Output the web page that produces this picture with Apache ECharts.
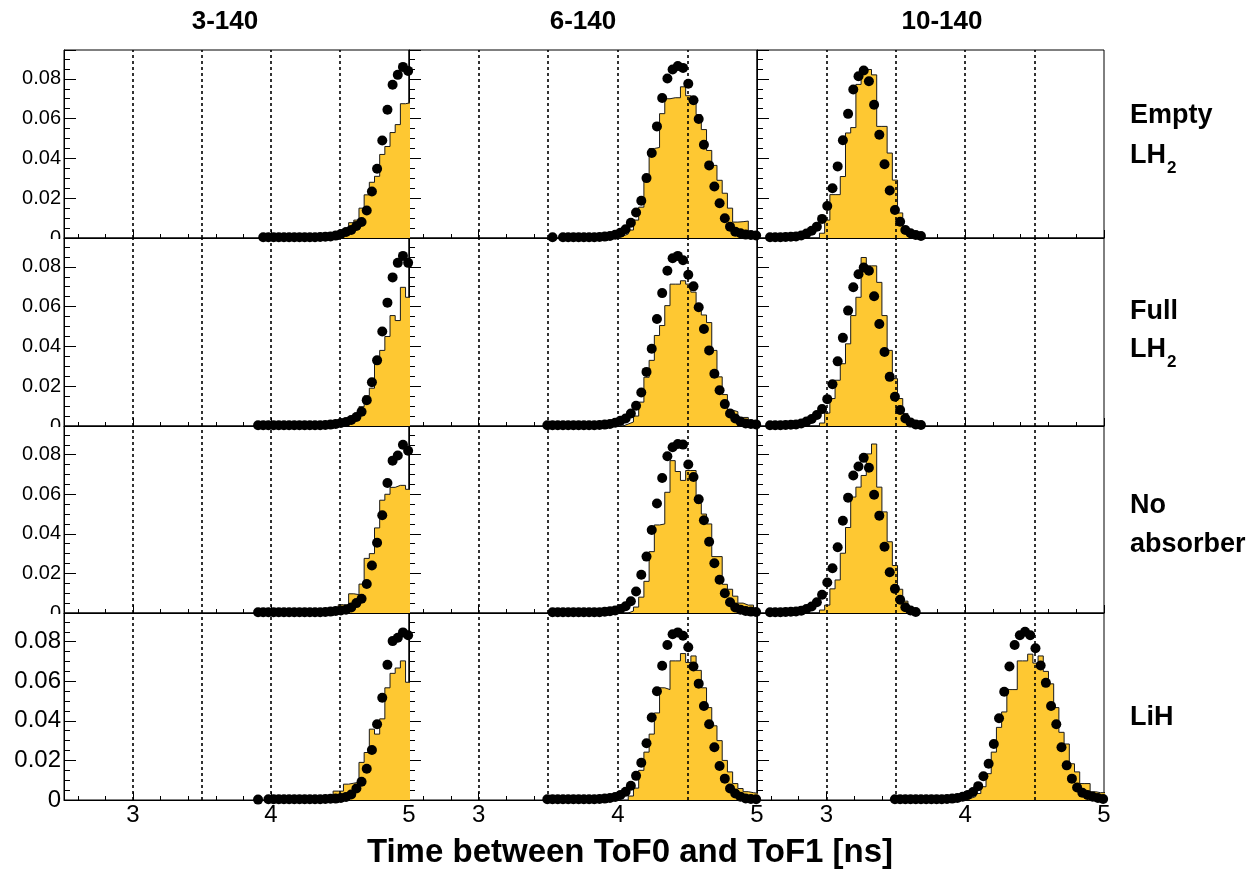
<!DOCTYPE html>
<html><head><meta charset="utf-8">
<script src="https://cdn.jsdelivr.net/npm/echarts@6/dist/echarts.min.js"></script>
<style>html,body{margin:0;padding:0;background:#fff}#c{width:1260px;height:875px}</style>
</head><body><div id="c"></div>
<script>
// ---- binning ----
const BIN_WIDTH = 0.0375;   // ns
const X_ORIGIN = 2.5;       // ns, lower edge of bin 0
const X_MIN = 2.5, X_MAX = 5, Y_MAX = 0.0945;

// ---- text ----
const columnTitles = ['3-140', '6-140', '10-140'];
const rowLabels = [['Empty', 'LH'], ['Full', 'LH'], ['No', 'absorber'], ['LiH']];
const rowLabelSubscripts = ['2', '2', '', ''];
const xAxisTitle = 'Time between ToF0 and ToF1 [ns]';
const guideLines = [3, 3.5, 4, 4.5];

// ---- Empty LH2 ----
const emptyA_dotsFrom = 38;
const emptyA_dots = [0.0004,0.0004,0.0004,0.0004,0.0004,0.0004,0.0004,0.0004,0.0004,0.0004,0.0004,0.0005,0.0006,0.0008,0.0012,0.002,0.003,0.004,0.006,0.008,0.0138,0.0234,0.0348,0.049,0.0645,0.077,0.082,0.086,0.084];
const emptyA_histFrom = 52;
const emptyA_hist = [0.001,0.002,0.0023,0.0077,0.009,0.015,0.0217,0.028,0.031,0.042,0.046,0.053,0.057,0.0675,0.068];

const emptyB_dotsFrom = 27;
const emptyB_dots = [0.0004,null,0.0004,0.0004,0.0004,0.0004,0.0004,0.0004,0.0004,0.0005,0.0007,0.001,0.0016,0.0027,0.0044,0.0077,0.0128,0.0187,0.0301,0.0427,0.0561,0.0704,0.0802,0.0847,0.0864,0.0855,0.0775,0.0692,0.0598,0.0469,0.0365,0.0259,0.0175,0.0099,0.0057,0.0032,0.0024,0.0017,0.0015,0.0013];
const emptyB_histFrom = 40;
const emptyB_hist = [0.001,0.002,0.004,0.009,0.0155,0.029,0.045,0.0455,0.0625,0.07,0.0705,0.0705,0.076,0.0715,0.0695,0.062,0.0545,0.044,0.0365,0.029,0.0225,0.015,0.008,0.0082,0.0085,0.002,0.001];

const emptyC_dotsFrom = 2;
const emptyC_dots = [0.0004,0.0004,0.0004,0.0005,0.0006,0.0008,0.0013,0.0022,0.0036,0.0057,0.0096,0.0161,0.025,0.036,0.0491,0.0624,0.0746,0.0813,0.0842,0.0788,0.067,0.0519,0.0371,0.0239,0.0141,0.0082,0.004,0.0024,0.0015,0.001];
const emptyC_histFrom = 12;
const emptyC_hist = [0.0024,0.009,0.0218,0.0218,0.0309,0.0528,0.0555,0.0772,0.0847,0.0847,0.082,0.0561,0.0561,0.0427,0.0291,0.0126,0.0057,0.001];

// ---- Full LH2 ----
const fullA_dotsFrom = 37;
const fullA_dots = [0.0004,0.0004,0.0004,0.0004,0.0004,0.0004,0.0004,0.0004,0.0004,0.0004,0.0004,0.0004,0.0004,0.0005,0.0007,0.001,0.0015,0.002,0.003,0.0045,0.0072,0.013,0.022,0.033,0.0475,0.062,0.0747,0.082,0.0855,0.082];
const fullA_histFrom = 53;
const fullA_hist = [0.001,0.0025,0.004,0.0055,0.0097,0.0152,0.019,0.033,0.038,0.045,0.0555,0.053,0.0697,0.0647];

const fullB_dotsFrom = 26;
const fullB_dots = [0.0004,0.0004,0.0004,0.0004,0.0004,0.0004,0.0004,0.0004,0.0004,0.0004,0.0005,0.0007,0.001,0.0016,0.0027,0.0038,0.0063,0.0102,0.0168,0.0272,0.0388,0.0538,0.0668,0.078,0.0843,0.0855,0.0833,0.076,0.0702,0.0597,0.0488,0.038,0.0263,0.018,0.011,0.0063,0.0038,0.0022,0.0013,0.001,0.0008];
const fullB_histFrom = 41;
const fullB_hist = [0.001,0.002,0.005,0.012,0.0245,0.033,0.0455,0.0505,0.0605,0.0713,0.0713,0.073,0.0713,0.0673,0.0597,0.0558,0.052,0.038,0.0247,0.0158,0.008,0.0072,0.0043,0.0043,0.0022,0.0017];

const fullC_dotsFrom = 2;
const fullC_dots = [0.0004,0.0004,0.0004,0.0005,0.0006,0.0008,0.0013,0.0022,0.0035,0.0055,0.0085,0.0135,0.021,0.0325,0.0443,0.058,0.0697,0.0763,0.0797,0.078,0.0652,0.0513,0.0372,0.0247,0.0147,0.008,0.0038,0.0017,0.0008,0.0005];
const fullC_histFrom = 12;
const fullC_hist = [0.0015,0.0065,0.0138,0.023,0.0313,0.0413,0.0555,0.0647,0.0847,0.0805,0.0805,0.0722,0.0555,0.038,0.0238,0.0138,0.0063,0.0005];

// ---- No absorber ----
const noneA_dotsFrom = 37;
const noneA_dots = [0.0004,0.0004,0.0004,0.0004,0.0004,0.0004,0.0004,0.0004,0.0004,0.0004,0.0004,0.0004,0.0004,0.0005,0.0007,0.001,0.0013,0.0017,0.0028,0.005,0.0072,0.0147,0.024,0.0355,0.0494,0.0657,0.077,0.0796,0.085,0.082];
const noneA_histFrom = 53;
const noneA_hist = [0.0042,0.0042,0.0097,0.0093,0.0146,0.0276,0.03,0.043,0.057,0.06,0.0635,0.0645,0.0645,0.0625];

const noneB_dotsFrom = 27;
const noneB_dots = [0.0004,0.0004,0.0004,0.0004,0.0004,0.0004,0.0004,0.0004,0.0004,0.0004,0.0006,0.0009,0.0013,0.002,0.0034,0.0059,0.0109,0.0193,0.0285,0.0419,0.0553,0.0682,0.0792,0.0838,0.0854,0.0851,0.075,0.0687,0.0575,0.0469,0.036,0.0251,0.0168,0.01,0.0054,0.0028,0.0017,0.001,0.0007,0.0005];
const noneB_histFrom = 42;
const noneB_hist = [0.001,0.003,0.008,0.016,0.031,0.0445,0.045,0.061,0.077,0.0715,0.067,0.072,0.072,0.0555,0.05,0.045,0.0285,0.0285,0.0145,0.012,0.0085,0.005,0.004,0.004,0.002];

const noneC_dotsFrom = 2;
const noneC_dots = [0.0004,0.0004,0.0004,0.0005,0.0006,0.0008,0.0012,0.002,0.0033,0.0054,0.0092,0.0154,0.0226,0.0332,0.0466,0.0583,0.0695,0.074,0.0784,0.0734,0.0598,0.0492,0.0335,0.0206,0.0122,0.0067,0.0029,0.0013,0.0005];
const noneC_histFrom = 12;
const noneC_hist = [0.0015,0.004,0.0122,0.0167,0.0302,0.0432,0.0586,0.0636,0.0695,0.0804,0.0854,0.0636,0.0511,0.036,0.024,0.012,0.006,0.0025,0.0008];

// ---- LiH ----
const lihA_dotsFrom = 37;
const lihA_dots = [0.0002,null,0.0004,0.0004,0.0004,0.0004,0.0004,0.0004,0.0004,0.0004,0.0004,0.0004,0.0004,0.0005,0.0006,0.0007,0.001,0.0015,0.0028,0.0058,0.0092,0.0158,0.0253,0.0383,0.0517,0.0683,0.0803,0.082,0.0847,0.0833];
const lihA_histFrom = 52;
const lihA_hist = [0.0045,0.0045,0.008,0.0085,0.009,0.019,0.024,0.0358,0.0333,0.041,0.0567,0.064,0.0667,0.0703,0.0595];

const lihB_dotsFrom = 26;
const lihB_dots = [0.0004,0.0004,0.0004,0.0004,0.0004,0.0004,0.0004,0.0004,0.0004,0.0004,0.0005,0.0007,0.001,0.0015,0.0025,0.0042,0.0072,0.0122,0.0188,0.0287,0.0417,0.055,0.0678,0.0783,0.0838,0.0847,0.083,0.0772,0.0675,0.0588,0.0475,0.0383,0.0267,0.0172,0.0108,0.0058,0.0033,0.0017,0.0008,0.0005,0.0004];
const lihB_histFrom = 42;
const lihB_hist = [0.002,0.006,0.015,0.0242,0.0333,0.044,0.0567,0.0558,0.0703,0.0703,0.074,0.0695,0.0728,0.0655,0.0567,0.0467,0.0375,0.03,0.02,0.0142,0.0083,0.0058,0.0042,0.0037,0.0033];

const lihC_dotsFrom = 26;
const lihC_dots = [0.0004,0.0004,0.0004,0.0004,0.0004,0.0004,0.0004,0.0004,0.0004,0.0004,0.0005,0.0007,0.001,0.0016,0.0025,0.004,0.007,0.012,0.0183,0.0283,0.0413,0.0547,0.0675,0.0783,0.0833,0.085,0.0833,0.0767,0.068,0.0592,0.0475,0.0383,0.0267,0.0175,0.0108,0.0063,0.0037,0.0025,0.0017,0.001,0.0005];
const lihC_histFrom = 40;
const lihC_hist = [0.0008,0.0017,0.0033,0.0067,0.0133,0.0242,0.0367,0.0445,0.0558,0.0558,0.0703,0.0703,0.0737,0.0692,0.0728,0.065,0.0587,0.0467,0.0342,0.0283,0.0183,0.0142,0.0083,0.0083,0.0042,0.0037,0.0037];

// panel table (row-major)
const panels = [
  [emptyA_dotsFrom, emptyA_dots, emptyA_histFrom, emptyA_hist],
  [emptyB_dotsFrom, emptyB_dots, emptyB_histFrom, emptyB_hist],
  [emptyC_dotsFrom, emptyC_dots, emptyC_histFrom, emptyC_hist],
  [fullA_dotsFrom, fullA_dots, fullA_histFrom, fullA_hist],
  [fullB_dotsFrom, fullB_dots, fullB_histFrom, fullB_hist],
  [fullC_dotsFrom, fullC_dots, fullC_histFrom, fullC_hist],
  [noneA_dotsFrom, noneA_dots, noneA_histFrom, noneA_hist],
  [noneB_dotsFrom, noneB_dots, noneB_histFrom, noneB_hist],
  [noneC_dotsFrom, noneC_dots, noneC_histFrom, noneC_hist],
  [lihA_dotsFrom, lihA_dots, lihA_histFrom, lihA_hist],
  [lihB_dotsFrom, lihB_dots, lihB_histFrom, lihB_hist],
  [lihC_dotsFrom, lihC_dots, lihC_histFrom, lihC_hist]
];

// ---- layout ----
const FONT = "'Liberation Sans', Arial, Helvetica, sans-serif";
const colLeft = [64, 409, 757];
const colWidth = [345, 348, 347];
const rowTop = [50, 238, 426, 613];
const rowHeight = [188, 188, 187, 187];
const HIST_FILL = '#fec832';

const grids = [], xAxes = [], yAxes = [], series = [];
panels.forEach((p, idx) => {
  const r = Math.floor(idx / 3), c = idx % 3;
  const [dFrom, dVals, hFrom, hVals] = p;
  grids.push({left: colLeft[c], top: rowTop[r], width: colWidth[c], height: rowHeight[r],
    show: true, borderColor: '#000', borderWidth: 1, backgroundColor: 'transparent'});
  xAxes.push({type: 'value', gridIndex: idx, min: X_MIN, max: X_MAX, splitNumber: 3,
    axisLine: {show: true, onZero: false, lineStyle: {color: '#000', width: 1}},
    axisTick: {show: true, inside: true, length: 8, lineStyle: {color: '#000', width: 1}},
    minorTick: {show: true, splitNumber: 5, length: 4, lineStyle: {color: '#000', width: 1}},
    splitLine: {show: false},
    axisLabel: {show: r === 3, showMinLabel: false, fontSize: 24, color: '#000', fontFamily: FONT, margin: 3,
      formatter: v => (Math.abs(v - Math.round(v)) < 1e-9 ? String(Math.round(v)) : '')}});
  yAxes.push({type: 'value', gridIndex: idx, min: 0, max: Y_MAX, interval: 0.02,
    axisLine: {show: true, lineStyle: {color: '#000', width: 1}},
    axisTick: {show: true, inside: true, length: 12, lineStyle: {color: '#000', width: 1}},
    minorTick: {show: true, splitNumber: 4, length: 6, lineStyle: {color: '#000', width: 1}},
    splitLine: {show: false},
    axisLabel: {show: c === 0, showMaxLabel: false, fontSize: r === 3 ? 24 : 20, color: '#000', fontFamily: FONT, margin: 3,
      formatter: v => (v === 0 ? '0' : v.toFixed(2))}});

  // histogram outline points (step at bin edges)
  const hist = [[X_ORIGIN + BIN_WIDTH * hFrom, 0]];
  hVals.forEach((v, i) => hist.push([X_ORIGIN + BIN_WIDTH * (hFrom + i), v]));
  hist.push([X_ORIGIN + BIN_WIDTH * (hFrom + hVals.length), 0]);
  series.push({type: 'line', xAxisIndex: idx, yAxisIndex: idx, data: hist, step: 'end',
    symbol: 'none', showSymbol: false, silent: true, z: 2, clip: true,
    lineStyle: {color: '#1a1a1a', width: 1},
    areaStyle: {color: HIST_FILL, opacity: 1},
    markLine: {silent: true, symbol: ['none', 'none'], z: 5, animation: false,
      label: {show: false}, emphasis: {disabled: true},
      lineStyle: {color: '#000', type: [3, 3], width: 1.6},
      data: guideLines.map(x => ({xAxis: x}))}});

  const dots = [];
  dVals.forEach((v, i) => { if (v !== null) dots.push([X_ORIGIN + BIN_WIDTH * (dFrom + i + 0.5), v]); });
  series.push({type: 'scatter', xAxisIndex: idx, yAxisIndex: idx, data: dots, symbol: 'circle',
    symbolSize: 10, itemStyle: {color: '#000', opacity: 1}, z: 10, silent: true, clip: false});
});

// ---- text graphics ----
const titleX = [225, 583, 942];
const graphics = [];
columnTitles.forEach((t, i) => graphics.push({type: 'text', x: titleX[i], y: 22, z: 50,
  style: {text: t, fill: '#000', font: 'bold 26px ' + FONT, align: 'center', verticalAlign: 'middle'}}));
const rowLabelY = [[116, 156], [312, 350], [506, 545], [718]];
const subY = [168, 362, 0, 0];
rowLabels.forEach((lines, r) => {
  lines.forEach((t, k) => graphics.push({type: 'text', x: 1130, y: rowLabelY[r][k], z: 50,
    style: {text: t, fill: '#000', font: 'bold 27px ' + FONT, align: 'left', verticalAlign: 'middle'}}));
  if (rowLabelSubscripts[r]) graphics.push({type: 'text', x: 1167, y: subY[r], z: 50,
    style: {text: rowLabelSubscripts[r], fill: '#000', font: 'bold 17px ' + FONT, align: 'left', verticalAlign: 'middle'}});
});
graphics.push({type: 'text', x: 630, y: 853, z: 50,
  style: {text: xAxisTitle, fill: '#000', font: 'bold 33px ' + FONT, align: 'center', verticalAlign: 'middle'}});
// white masks clipping the "0" labels of the upper rows (as in the original pads)
[0, 1, 2].forEach(r => graphics.push({type: 'rect', z: 60, silent: true,
  shape: {x: 0, y: rowTop[r] + rowHeight[r] + 1, width: 61, height: 10}, style: {fill: '#fff'}}));

const chart = echarts.init(document.getElementById('c'), null, {renderer: 'canvas'});
chart.setOption({
  animation: false,
  backgroundColor: '#fff',
  textStyle: {fontFamily: FONT},
  grid: grids, xAxis: xAxes, yAxis: yAxes, series: series, graphic: graphics
});
</script></body></html>
